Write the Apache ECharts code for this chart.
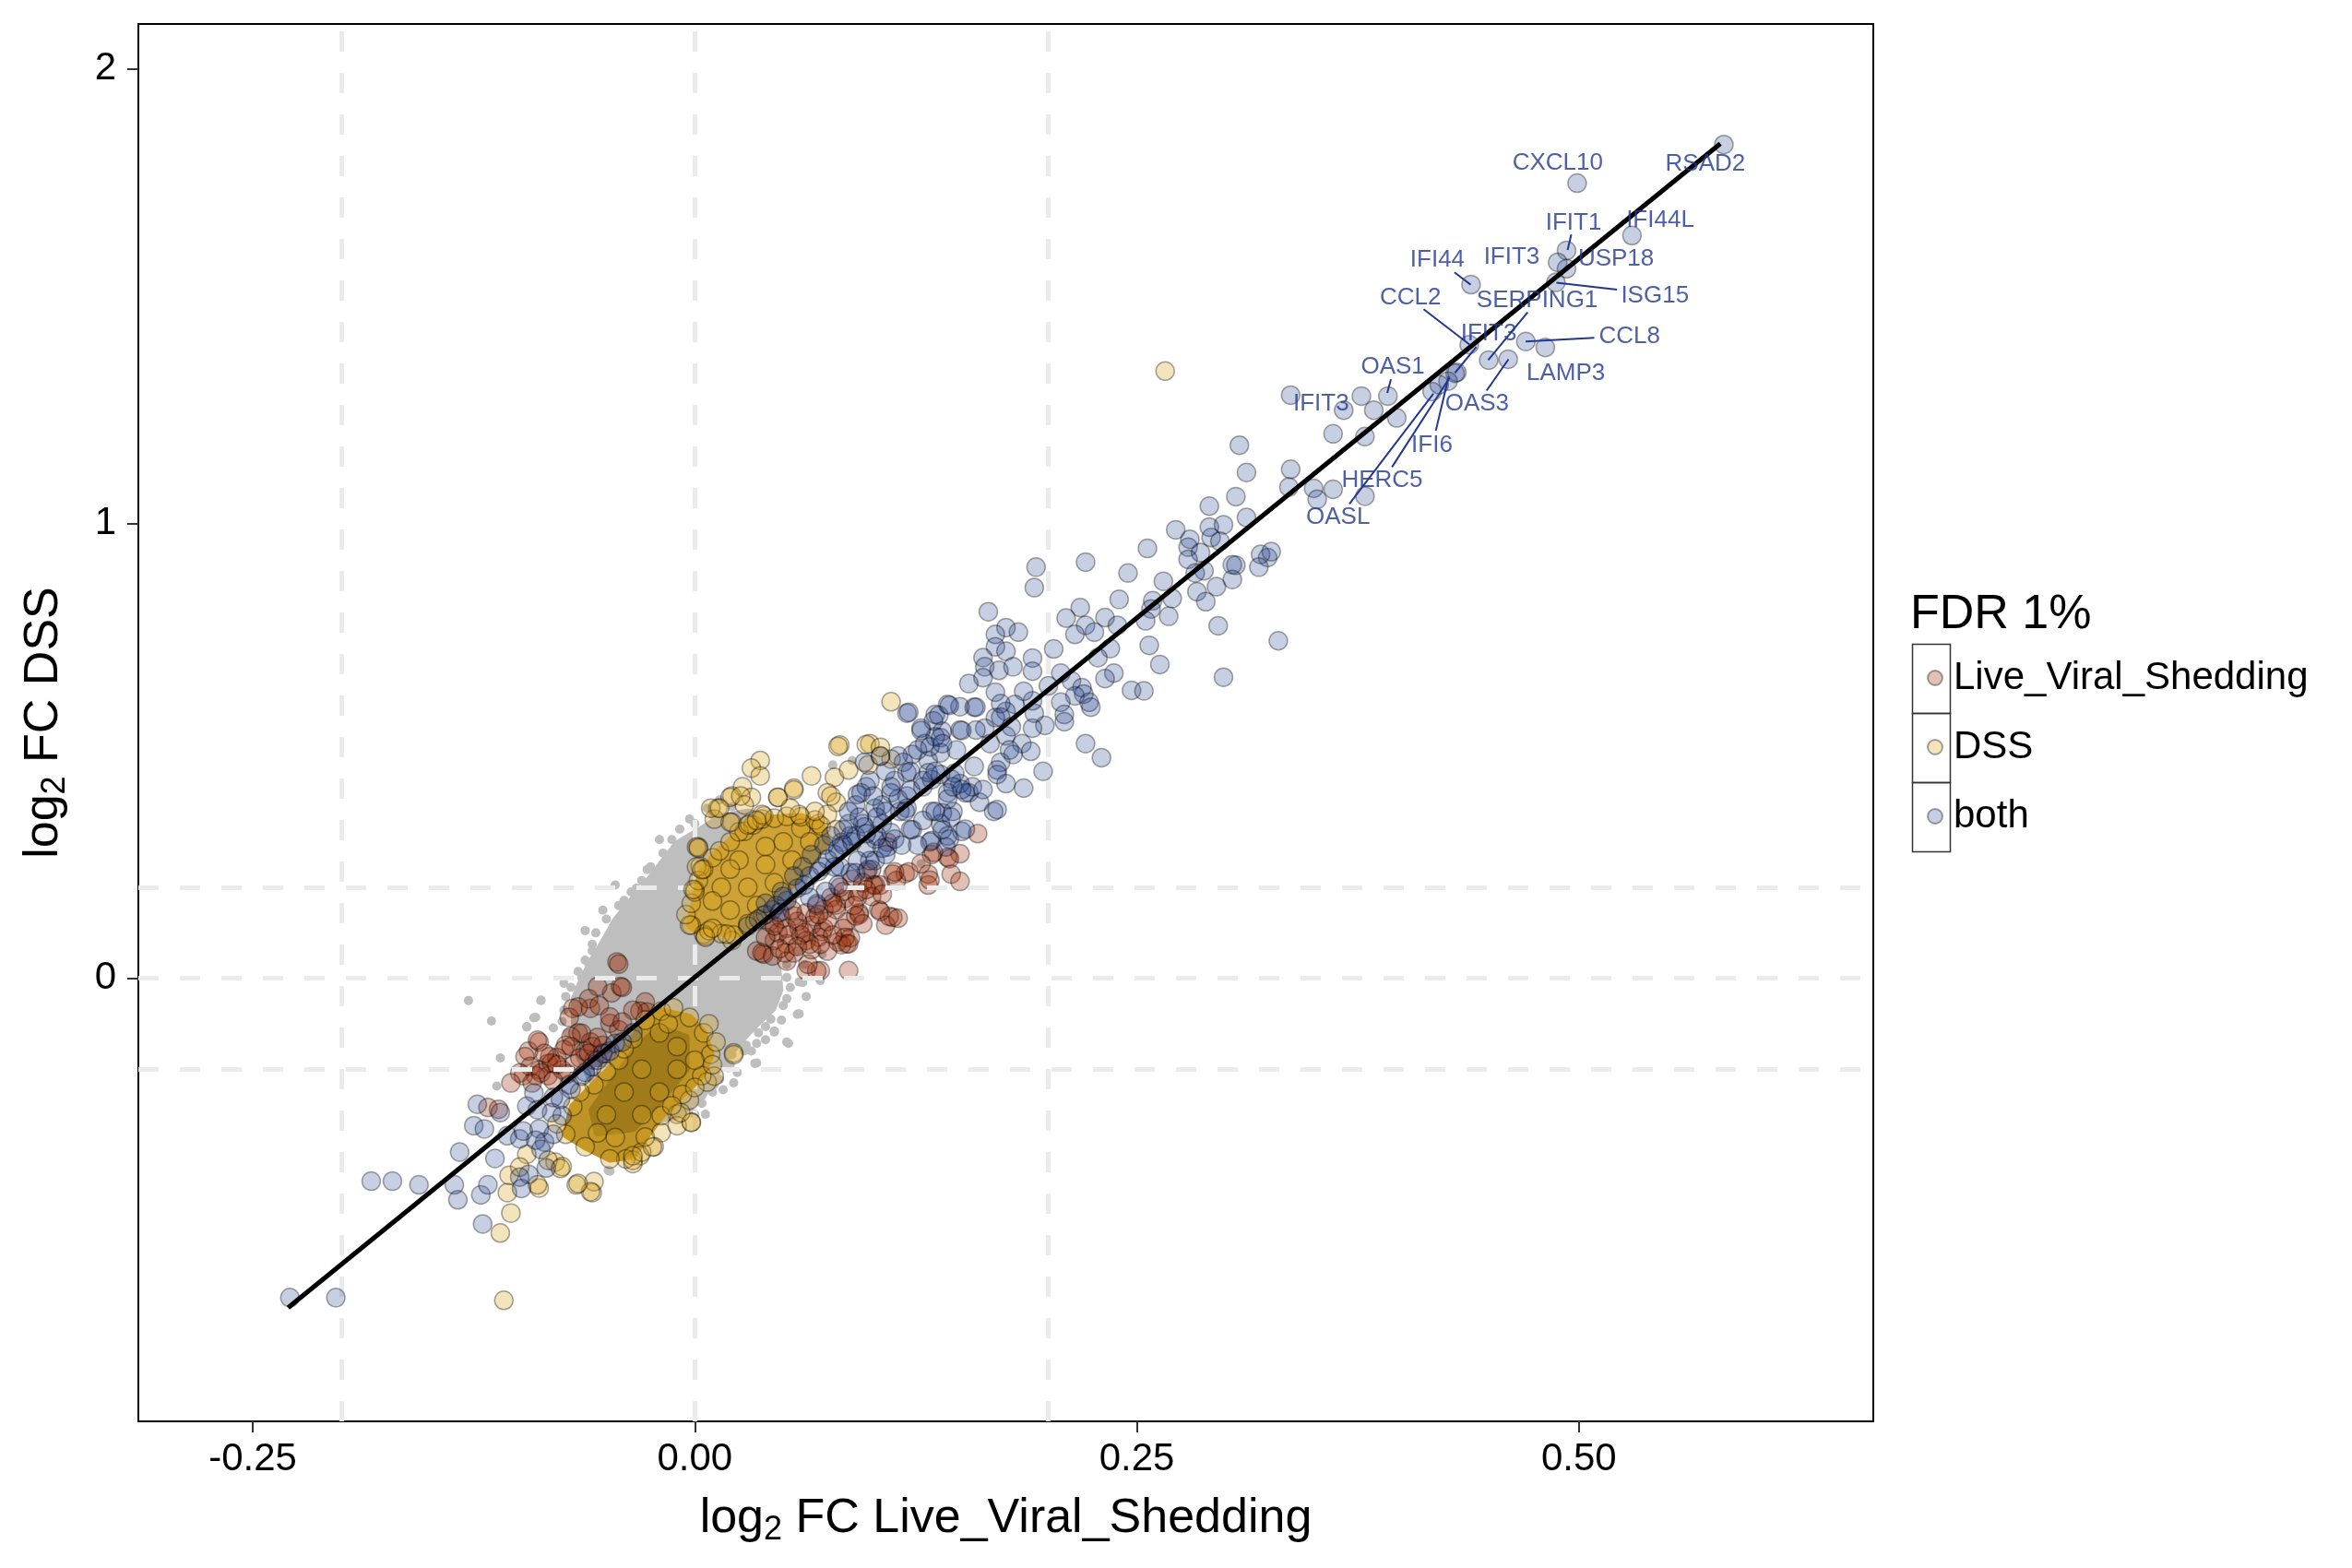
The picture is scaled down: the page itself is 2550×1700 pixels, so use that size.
<!DOCTYPE html>
<html>
<head>
<meta charset="utf-8">
<script src="https://cdn.jsdelivr.net/npm/echarts@6/dist/echarts.min.js"></script>
<style>html,body{margin:0;padding:0;background:#fff}#chart{width:2550px;height:1700px}</style>
</head>
<body>
<div id="chart"></div>
<script>
var FONT = 'Liberation Sans, Arial, sans-serif';

var xTicks = [-0.25, 0, 0.25, 0.5];
var yTicks = [0, 1, 2];
var refLinesX = [-0.2, 0, 0.2];
var refLinesY = [-0.2, 0, 0.2];
var fitLine = [[-0.23, -0.724], [0.58, 1.835]];

// dense grey core (not significant genes), read as an outline
var greyHull = [[-0.050,0.090],[-0.045,0.125],[-0.038,0.160],[-0.030,0.195],[-0.024,0.225],[-0.018,0.255],[-0.010,0.295],[0.005,0.330],[0.015,0.355],[0.030,0.365],[0.056,0.340],[0.066,0.259],[0.059,0.191],[0.049,0.137],[0.042,0.070],[0.047,0.016],[0.048,-0.025],[0.044,-0.066],[0.035,-0.099],[0.025,-0.140],[0.018,-0.174],[0.011,-0.214],[0.004,-0.261],[-0.010,-0.302],[-0.028,-0.316],[-0.043,-0.302],[-0.057,-0.234],[-0.066,-0.167],[-0.068,-0.099],[-0.068,-0.045],[-0.063,0.002],[-0.057,0.045]];

var greyPoints = [[-0.0085,0.328],[-0.010,0.269],[-0.014,0.252],[-0.027,0.239],[-0.026,0.208],[-0.033,0.198],[-0.029,0.181],[-0.040,0.171],[-0.040,0.154],[-0.048,0.087],[-0.058,0.060],[-0.060,0.033],[-0.064,0.002],[-0.074,-0.011],[-0.087,-0.048],[-0.090,-0.086],[-0.095,-0.106],[-0.080,-0.109],
[0.052,0.002],[0.059,-0.008],[0.071,-0.005],[0.052,-0.045],[0.058,-0.079],[0.045,-0.116],[0.052,-0.140],[0.035,-0.143],[0.032,-0.160],[0.034,-0.187],[0.019,-0.197],[0.024,-0.207],[0.004,-0.275],[0.006,-0.299],[0.000,-0.299],[-0.048,-0.424],[0.007,0.374],[0.021,0.377],[0.078,0.469],[0.089,0.479],[0.128,0.252],[0.072,0.053],
[0.042,0.022],[0.039,0.036],[0.045,-0.011],[0.049,-0.092],[0.040,-0.106],[0.028,-0.147],[0.012,-0.201],[0.011,-0.234],[-0.003,-0.282],[-0.014,-0.302],
[-0.128,-0.049],[-0.115,-0.094],[-0.087,-0.049],[-0.091,-0.087],[-0.095,-0.107],[-0.110,-0.175],[-0.112,-0.237],[-0.049,-0.422],[0.035,-0.186],[0.053,-0.143],[0.045,-0.118],[0.059,-0.078],[0.061,-0.009],[0.022,-0.230],[0.021,-0.168],[0.029,-0.147],
[-0.056,0.100],[-0.058,0.075],[-0.062,0.040],[-0.066,0.015],[-0.070,-0.020],[-0.073,-0.040],[-0.074,-0.070],[-0.075,-0.095],[-0.072,-0.120],[-0.050,0.130],[-0.043,0.160],[-0.036,0.190],[-0.030,0.215],[-0.025,0.245],[-0.018,0.275],[-0.013,0.305],[0.000,0.340],[0.010,0.360],[0.052,0.030],[0.054,-0.020],[0.050,-0.060],[0.043,-0.090],[0.036,-0.120],[0.028,-0.160],[0.020,-0.190],[0.014,-0.222],[0.010,-0.250],[0.058,0.060],[0.062,0.030],
[-0.045,0.205],[-0.052,0.150],[-0.062,0.105],[-0.020,0.305],[-0.003,0.350],[0.014,0.392],[0.063,-0.040],[0.040,-0.135],[0.016,-0.245]];

// dense DSS cores, read as outlines
var dssCoreUpper = [[-0.003,0.117],[0.000,0.170],[0.003,0.225],[0.010,0.265],[0.017,0.292],[0.031,0.340],[0.045,0.352],[0.060,0.355],[0.0715,0.340],[0.075,0.300],[0.065,0.250],[0.055,0.205],[0.045,0.170],[0.0386,0.138],[0.030,0.110],[0.0245,0.097],[0.010,0.100],[0.002,0.103]];
var dssCoreLower = [[-0.019,-0.072],[-0.003,-0.086],[0.005,-0.120],[0.009,-0.167],[0.004,-0.214],[-0.007,-0.255],[-0.019,-0.302],[-0.028,-0.349],[-0.035,-0.390],[-0.048,-0.397],[-0.062,-0.370],[-0.073,-0.343],[-0.069,-0.282],[-0.057,-0.234],[-0.043,-0.180],[-0.035,-0.133],[-0.028,-0.092]];
var dssCoreLowerInner = [[-0.020,-0.110],[-0.005,-0.130],[-0.005,-0.200],[-0.020,-0.270],[-0.035,-0.330],[-0.055,-0.340],[-0.058,-0.290],[-0.045,-0.220],[-0.032,-0.150]];

var shedPoints = [[0.160,0.318],[0.150,0.274],[0.143,0.266],[0.134,0.272],[0.132,0.229],[0.145,0.229],[0.150,0.213],[0.132,0.205],[0.119,0.230],[0.112,0.229],[0.105,0.205],[0.114,0.215],[0.104,0.151],[0.112,0.134],[0.108,0.117],[0.093,0.144],[0.086,0.124],[0.086,0.076],[0.081,0.080],[0.087,0.017],[0.071,0.017],[0.063,0.017],[0.100,0.239],[0.102,0.205],
[0.133,0.216],[0.144,0.263],[0.135,0.277],[0.128,0.252],[0.113,0.234],[0.121,0.234],[0.110,0.136],[0.115,0.132],[0.105,0.147],[0.093,0.140],[0.088,0.089],[0.083,0.074],[0.069,0.016],[0.064,0.031],[0.052,0.038],[0.039,0.053],[0.035,0.060],[0.072,0.103],[0.085,0.176],[0.080,0.161],[0.093,0.190],[0.101,0.205],[0.097,0.234],[0.109,0.299],
[0.042,0.124],[0.049,0.131],[0.056,0.137],[0.063,0.144],[0.052,0.110],[0.059,0.110],[0.066,0.117],[0.073,0.151],[0.077,0.178],[0.084,0.191],[0.089,0.218],[0.070,0.090],[0.063,0.083],[0.052,0.076],[0.045,0.083],[0.038,0.056],[0.044,0.049],[0.051,0.056],[0.056,0.056],[0.066,0.063],[0.073,0.110],[0.080,0.151],[0.092,0.178],[0.091,0.137],[0.084,0.110],[0.085,0.090],[0.087,0.076],
[0.058,0.125],[0.047,0.100],[0.060,0.095],[0.068,0.135],[0.075,0.125],[0.078,0.095],[0.069,0.160],[0.082,0.200],[0.095,0.210],[0.100,0.180],[0.040,0.090],[0.055,0.150],[0.065,0.075],[0.075,0.060],
[0.045,0.115],[0.053,0.095],[0.062,0.100],[0.070,0.140],[0.078,0.165],[0.058,0.070],[0.048,0.065],[0.071,0.075],[0.090,0.160],[0.097,0.195],[0.106,0.185],[0.095,0.120],
[-0.066,-0.120],[-0.059,-0.140],[-0.052,-0.147],[-0.062,-0.160],[-0.073,-0.147],[-0.078,-0.174],[-0.083,-0.187],[-0.088,-0.201],[-0.090,-0.214],[-0.097,-0.214],[-0.083,-0.214],[-0.075,-0.201],[-0.068,-0.187],[-0.057,-0.180],[-0.048,-0.099],[-0.043,-0.113],[-0.069,-0.066],[-0.059,-0.066],[-0.047,-0.032],[-0.042,-0.018],[-0.044,0.036],[-0.055,-0.018],[-0.028,-0.052],[-0.031,-0.072],[-0.071,-0.086],[-0.094,-0.160],[-0.088,-0.140],
[-0.043,0.031],[-0.041,-0.020],[-0.060,-0.045],[-0.054,-0.060],[-0.066,-0.063],[-0.027,-0.074],[-0.035,-0.070],[-0.048,-0.085],[-0.041,-0.096],[-0.089,-0.136],[-0.096,-0.172],[-0.093,-0.194],[-0.099,-0.208],[-0.104,-0.230],[-0.082,-0.172],[-0.070,-0.128],[-0.064,-0.121],[-0.058,-0.150],[-0.074,-0.157],[-0.087,-0.208],[-0.117,-0.284],[-0.111,-0.288],[-0.081,-0.186],
[-0.070,-0.150],[-0.065,-0.175],[-0.060,-0.165],[-0.078,-0.190],[-0.072,-0.210],[-0.085,-0.165],[-0.055,-0.130],[-0.050,-0.165],[-0.080,-0.225],[-0.092,-0.230]];

var dssPoints = [[0.082,0.513],[0.099,0.516],[0.111,0.482],[0.037,0.479],[0.032,0.462],[0.037,0.445],[0.027,0.421],[0.021,0.401],[0.032,0.398],[0.028,0.381],[0.013,0.374],[0.011,0.350],[0.021,0.343],[0.028,0.323],[0.033,0.337],[0.039,0.357],[0.047,0.398],[0.056,0.418],[0.066,0.445],[0.079,0.442],[0.087,0.458],[0.098,0.469],[0.075,0.408],[0.080,0.387],[0.002,0.289],[0.003,0.246],[0.000,0.195],[-0.002,0.117],[0.005,0.097],[0.021,0.083],[0.006,0.093],[0.105,0.488],
[0.111,0.608],[0.081,0.510],[0.097,0.514],[0.105,0.508],[0.009,0.374],[0.001,0.289],[0.001,0.245],
[0.266,1.335],[-0.106,-0.471],[-0.110,-0.560],[-0.108,-0.708],[-0.058,-0.471],[-0.079,-0.404],
[0.020,0.150],[0.030,0.200],[0.040,0.250],[0.050,0.300],[0.060,0.330],[0.025,0.260],[0.015,0.200],[0.035,0.160],[0.045,0.210],[0.055,0.260],[0.065,0.300],[0.070,0.340],[0.030,0.120],[0.010,0.170],[0.020,0.240],[0.040,0.290],
[-0.003,0.117],[-0.005,0.140],[-0.002,0.165],[0.000,0.190],[0.002,0.215],[0.005,0.240],[0.010,0.265],[0.014,0.280],[0.020,0.300],[0.025,0.322],[0.031,0.340],[0.038,0.350],[0.045,0.352],[0.052,0.356],[0.060,0.355],[0.068,0.348],[0.0715,0.335],[0.008,0.105],[0.015,0.098],[0.022,0.095],[0.0386,0.138],[0.034,0.125],[0.075,0.360],[0.080,0.327],
[0.020,0.398],[0.026,0.401],[0.047,0.398],[0.056,0.414],[0.077,0.401],[0.068,0.367],[0.059,0.360],[0.054,0.374],[0.038,0.360],[0.014,0.374],[0.020,0.343],[0.030,0.337],[0.035,0.347],[0.002,0.286],[0.004,0.239],[-0.001,0.195],[0.006,0.090],[0.018,0.097],[0.010,0.110],
[0.022,-0.164],[0.007,-0.228],[-0.003,-0.268],[-0.010,-0.299],[-0.002,-0.316],[-0.019,-0.339],[-0.023,-0.370],[-0.031,-0.390],[-0.035,-0.407],[-0.057,-0.447],[-0.067,-0.454],[-0.088,-0.461],[-0.075,-0.414],[-0.083,-0.400],[-0.095,-0.387],[-0.104,-0.516],[-0.059,-0.469],[-0.066,-0.451],[-0.089,-0.454],[-0.105,-0.433],[-0.099,-0.415],[-0.076,-0.418],[-0.039,-0.397],[-0.035,-0.400],[-0.030,-0.382],[-0.024,-0.371],[-0.010,-0.324],[-0.002,-0.317],[-0.008,-0.295],[0.011,-0.215],[0.022,-0.168],
[-0.019,-0.072],[-0.003,-0.086],[0.005,-0.120],[0.009,-0.167],[0.004,-0.214],[-0.007,-0.255],[-0.019,-0.302],[-0.028,-0.349],[-0.035,-0.390],[-0.048,-0.397],[-0.062,-0.370],[-0.073,-0.343],[-0.069,-0.282],[-0.057,-0.234],[-0.043,-0.180],[-0.035,-0.133],[-0.028,-0.092],[-0.020,-0.120],[-0.010,-0.150],[-0.030,-0.200],[-0.040,-0.250],[-0.050,-0.300],[-0.020,-0.250],[-0.010,-0.200],[-0.030,-0.300],[-0.055,-0.340],[-0.045,-0.350],[-0.015,-0.100],[0.000,-0.180],
[-0.012,-0.065],[0.008,-0.100],[0.012,-0.140],[0.010,-0.190],[0.000,-0.240],[-0.013,-0.280],[-0.078,-0.320],[-0.065,-0.250],[-0.050,-0.205],[-0.040,-0.155]];

var bothPoints = [[0.582,1.833],[0.499,1.748],[0.530,1.633],[0.493,1.600],[0.488,1.574],[0.493,1.560],[0.487,1.530],[0.439,1.525],[0.470,1.400],[0.481,1.387],[0.460,1.361],[0.449,1.359],[0.438,1.393],[0.431,1.332],[0.426,1.313],[0.417,1.290],[0.397,1.232],[0.392,1.280],[0.337,1.282],[0.367,1.249],[0.377,1.280],[0.384,1.249],[0.361,1.197],[0.379,1.191],[0.308,1.172],[0.312,1.112],[0.337,1.119],[0.336,1.080],[0.350,1.077],[0.352,1.053],[0.361,1.075],[0.379,1.060],[0.291,1.038],[0.306,1.059],[0.292,0.969],[0.324,0.925],[0.306,0.908],[0.430,1.330],[0.421,1.305],
[0.272,0.986],[0.280,0.965],[0.291,0.992],[0.299,0.997],[0.312,1.013],[0.279,0.948],[0.286,0.936],[0.297,0.961],[0.279,0.921],[0.288,0.896],[0.304,0.909],[0.320,0.932],[0.326,0.938],[0.319,0.904],[0.304,0.877],[0.295,0.861],[0.256,0.945],[0.221,0.915],[0.193,0.904],[0.192,0.859],[0.245,0.891],[0.265,0.873],[0.283,0.891],[0.284,0.850],[0.289,0.828],[0.270,0.835],[0.259,0.830],[0.258,0.812],[0.240,0.833],[0.255,0.786],[0.268,0.796],[0.296,0.775],[0.330,0.742],[0.218,0.815],[0.210,0.792],[0.221,0.776],[0.226,0.761],[0.215,0.756],[0.232,0.793],[0.239,0.776],[0.166,0.806],[0.176,0.771],[0.183,0.761],[0.170,0.756],
[0.170,0.729],[0.176,0.719],[0.163,0.705],[0.164,0.685],[0.172,0.677],[0.180,0.685],[0.191,0.704],[0.203,0.724],[0.191,0.675],[0.235,0.725],[0.228,0.705],[0.257,0.732],[0.263,0.690],[0.299,0.662],[0.237,0.671],[0.232,0.659],[0.247,0.633],[0.254,0.632],[0.207,0.671],[0.213,0.654],[0.200,0.643],[0.219,0.639],[0.220,0.625],[0.215,0.621],[0.207,0.607],[0.223,0.607],[0.224,0.596],[0.209,0.580],[0.209,0.564],[0.198,0.556],[0.191,0.550],[0.192,0.583],[0.191,0.610],[0.186,0.631],[0.181,0.602],[0.176,0.587],[0.170,0.573],[0.170,0.629],[0.163,0.661],[0.155,0.648],[0.173,0.604],[0.164,0.550],[0.120,0.583],[0.136,0.580],[0.143,0.602],[0.150,0.597],[0.158,0.596],[0.159,0.546],[0.150,0.546],[0.140,0.543],[0.128,0.550],[0.135,0.566],
[0.176,0.533],[0.185,0.516],[0.190,0.499],[0.180,0.492],[0.173,0.475],[0.171,0.458],[0.176,0.428],[0.186,0.418],[0.197,0.455],[0.221,0.516],[0.230,0.485],[0.169,0.367],[0.161,0.387],[0.155,0.408],[0.157,0.421],[0.150,0.428],[0.145,0.438],[0.146,0.367],[0.134,0.367],[0.139,0.340],[0.151,0.323],[0.143,0.313],[0.134,0.303],[0.142,0.289],[0.130,0.516],[0.139,0.529],[0.123,0.492],[0.118,0.475],[0.132,0.479],[0.139,0.496],[0.148,0.502],[0.120,0.452],[0.113,0.435],[0.111,0.408],[0.120,0.401],[0.129,0.421],[0.132,0.452],[0.139,0.448],[0.143,0.408],[0.153,0.408],[0.120,0.374],[0.116,0.367],[0.106,0.381],[0.102,0.374],[0.097,0.421],[0.092,0.404],[0.106,0.340],[0.111,0.320],[0.123,0.327],[0.102,0.306],[0.097,0.286],[0.109,0.289],[0.095,0.340],[0.088,0.313],[0.083,0.299],[0.092,0.259],[0.102,0.259],[0.098,0.239],[0.088,0.232],[0.079,0.245],[0.081,0.205],[0.074,0.191],[0.069,0.164],[0.065,0.178],
[0.121,0.585],[0.138,0.578],[0.144,0.600],[0.159,0.596],[0.173,0.574],[0.179,0.553],[0.151,0.545],[0.136,0.531],[0.128,0.545],[0.167,0.516],[0.178,0.502],[0.171,0.448],[0.163,0.415],[0.171,0.371],[0.153,0.328],[0.144,0.306],[0.140,0.364],[0.158,0.466],[0.147,0.451],[0.134,0.437],[0.122,0.455],[0.151,0.415],
[0.052,0.171],[0.058,0.198],[0.065,0.225],[0.072,0.245],[0.079,0.272],[0.084,0.293],[0.091,0.313],[0.096,0.333],[0.103,0.354],[0.108,0.367],[0.115,0.394],[0.122,0.414],[0.129,0.435],[0.136,0.455],[0.091,0.381],[0.094,0.408],[0.099,0.435],[0.108,0.455],[0.115,0.489],[0.126,0.502],[0.133,0.509],[0.140,0.516],[0.103,0.313],[0.106,0.286],[0.113,0.306],[0.122,0.327],[0.129,0.347],[0.136,0.367],[0.143,0.394],[0.146,0.421],[0.145,0.354],[0.140,0.327],[0.133,0.300],[0.126,0.293],[0.087,0.340],[0.077,0.313],[0.066,0.272],[0.082,0.245],[0.091,0.232],[0.099,0.259],[0.108,0.272],[0.117,0.293],[0.087,0.367],[0.093,0.354],[0.084,0.327],[0.073,0.293],[0.061,0.245],[0.056,0.225],[0.049,0.191],[0.044,0.151],[0.096,0.475],[0.105,0.489],[0.101,0.401],[0.111,0.421],[0.119,0.367],
[0.030,0.115],[0.036,0.130],[0.040,0.140],[0.046,0.160],[0.050,0.180],[0.040,0.165],[0.048,0.145],[0.075,0.262],[0.070,0.235],[0.062,0.205],[0.081,0.285],[0.089,0.300],[0.097,0.318],
[-0.123,-0.277],[-0.133,-0.382],[-0.136,-0.454],[-0.121,-0.476],[-0.125,-0.324],[-0.119,-0.331],[-0.113,-0.396],[-0.110,-0.295],[-0.106,-0.346],[-0.099,-0.353],[-0.098,-0.462],[-0.117,-0.454],[-0.095,-0.281],[-0.091,-0.252],[-0.088,-0.331],[-0.085,-0.360],[-0.081,-0.295],[-0.076,-0.266],[-0.070,-0.244],[-0.064,-0.215],[-0.058,-0.194],[-0.052,-0.165],[-0.045,-0.143],
[-0.097,-0.336],[-0.090,-0.356],[-0.087,-0.376],[-0.080,-0.343],[-0.075,-0.302],[-0.094,-0.431],[-0.099,-0.437],[-0.084,-0.417],[-0.062,-0.207],[-0.055,-0.180],[-0.048,-0.160],[-0.041,-0.140],[-0.035,-0.120],[-0.071,-0.234],[-0.080,-0.262],[-0.089,-0.289],
[-0.183,-0.446],[-0.171,-0.446],[-0.156,-0.454],[-0.134,-0.487],[-0.120,-0.540],[-0.229,-0.702],[-0.203,-0.702]];

// gene name, label x, label y
var geneLabels = [['RSAD2',0.5715,1.791],['CXCL10',0.488,1.793],['IFI44L',0.546,1.667],['IFIT1',0.497,1.661],['USP18',0.521,1.581],['IFIT3',0.462,1.586],['IFI44',0.420,1.579],['ISG15',0.543,1.501],['SERPING1',0.4764,1.491],['CCL2',0.4047,1.497],['IFIT3',0.449,1.418],['CCL8',0.5286,1.410],['LAMP3',0.4926,1.330],['OAS3',0.4424,1.262],['OAS1',0.3948,1.344],['IFIT3',0.3542,1.263],['IFI6',0.4169,1.172],['HERC5',0.3887,1.094],['OASL',0.3638,1.013]];
// repel segments: from label edge to point
var geneSegments = [[0.4957,1.635,0.4936,1.601],[0.4296,1.552,0.4388,1.525],[0.5216,1.514,0.4873,1.529],[0.471,1.464,0.4487,1.359],[0.4122,1.471,0.4383,1.393],[0.442,1.388,0.4299,1.331],[0.5087,1.408,0.4699,1.400],[0.4478,1.292,0.4602,1.361],[0.3937,1.317,0.3916,1.287],[0.4191,1.204,0.4264,1.324],[0.3943,1.124,0.4268,1.320],[0.3702,1.043,0.4177,1.285]];

var seriesNames = ['Live_Viral_Shedding', 'DSS', 'both'];

function hullSeries(points, fill, z) {
  return {
    type: 'custom', coordinateSystem: 'cartesian2d', silent: true, z: z,
    data: [points[0]],
    renderItem: function (params, api) {
      return {
        type: 'polygon',
        shape: { points: points.map(function (p) { return api.coord(p); }) },
        style: { fill: fill, stroke: fill, lineWidth: 8, lineJoin: 'round' }
      };
    }
  };
}

var circleBorder = 'rgba(0,0,0,0.35)';
var labelBlue = '#22388E';

var chart = echarts.init(document.getElementById('chart'));
chart.setOption({
  animation: false,
  backgroundColor: '#fff',
  textStyle: { fontFamily: FONT },
  title: {
    text: 'FDR 1%', left: 2071, top: 641, padding: 0,
    textStyle: { fontSize: 52, fontWeight: 'normal', color: '#000', fontFamily: FONT }
  },
  legend: {
    orient: 'vertical', left: 2084, top: 709,
    itemWidth: 16, itemHeight: 16, itemGap: 33, icon: 'circle',
    data: seriesNames,
    formatter: function (n) { return '{t|' + n + '}'; },
    textStyle: {
      fontSize: 42, color: '#000', fontFamily: FONT,
      rich: { t: { fontSize: 42, lineHeight: 50, padding: [0, 0, 0, 7], color: '#000', fontFamily: FONT } }
    }
  },
  graphic: [
    { type: 'rect', left: 2071, top: 696, shape: { width: 41, height: 75 }, style: { fill: 'none', stroke: '#333', lineWidth: 1.5 } },
    { type: 'rect', left: 2071, top: 771, shape: { width: 41, height: 75 }, style: { fill: 'none', stroke: '#333', lineWidth: 1.5 } },
    { type: 'rect', left: 2071, top: 846, shape: { width: 41, height: 75 }, style: { fill: 'none', stroke: '#333', lineWidth: 1.5 } }
  ],
  grid: {
    left: 150, right: 519, top: 26, bottom: 159,
    show: true, borderColor: '#000', borderWidth: 2, outerBoundsMode: 'none'
  },
  xAxis: {
    type: 'value', min: -0.3147, max: 0.6665,
    axisLine: { show: false, onZero: false },
    axisTick: { show: true, length: 12, customValues: xTicks, lineStyle: { color: '#333', width: 2 } },
    axisLabel: { customValues: xTicks, formatter: function (v) { return v.toFixed(2); }, fontSize: 42, color: '#000', margin: 20, fontFamily: FONT },
    splitLine: { show: false },
    name: '{a|log}{b|2}{a| FC Live_Viral_Shedding}', nameLocation: 'middle', nameGap: 74,
    nameTextStyle: {
      fontSize: 52, color: '#000', fontFamily: FONT,
      rich: {
        a: { fontSize: 52, lineHeight: 64, color: '#000', fontFamily: FONT },
        b: { fontSize: 36, lineHeight: 64, padding: [24, 0, 0, 0], color: '#000', fontFamily: FONT }
      }
    }
  },
  yAxis: {
    type: 'value', min: -0.974, max: 2.098,
    axisLine: { show: false, onZero: false },
    axisTick: { show: true, length: 12, customValues: yTicks, lineStyle: { color: '#333', width: 2 } },
    axisLabel: { customValues: yTicks, formatter: function (v) { return String(v); }, fontSize: 42, color: '#000', margin: 24, fontFamily: FONT },
    splitLine: { show: false },
    name: '{a|log}{b|2}{a| FC DSS}', nameLocation: 'middle', nameGap: 70,
    nameTextStyle: {
      fontSize: 52, color: '#000', fontFamily: FONT,
      rich: {
        a: { fontSize: 52, lineHeight: 64, color: '#000', fontFamily: FONT },
        b: { fontSize: 36, lineHeight: 64, padding: [24, 0, 0, 0], color: '#000', fontFamily: FONT }
      }
    }
  },
  series: [
    {
      type: 'line', data: [], z: 1, silent: true,
      markLine: {
        silent: true, symbol: ['none', 'none'], label: { show: false },
        lineStyle: { type: [22, 23], color: '#EBEBEB', width: 5 },
        data: refLinesX.map(function (v) { return { xAxis: v }; }).concat(refLinesY.map(function (v) { return { yAxis: v }; }))
      }
    },
    hullSeries(greyHull, '#BEBEBE', 2),
    {
      type: 'scatter', name: 'ns', data: greyPoints, z: 3, silent: true,
      symbolSize: 10, itemStyle: { color: '#BEBEBE', opacity: 1 }
    },
    {
      type: 'scatter', name: seriesNames[0], data: shedPoints, z: 4, silent: true,
      symbolSize: 20,
      itemStyle: { color: 'rgba(160,45,10,0.3)', borderColor: circleBorder, borderWidth: 1.5, opacity: 1 }
    },
    hullSeries(dssCoreUpper, '#CDA236', 5),
    hullSeries(dssCoreLower, '#BE9428', 5),
    hullSeries(dssCoreLowerInner, '#A07B1A', 5),
    {
      type: 'scatter', name: seriesNames[1], data: dssPoints, z: 6, silent: true,
      symbolSize: 20,
      itemStyle: { color: 'rgba(218,165,32,0.3)', borderColor: circleBorder, borderWidth: 1.5, opacity: 1 }
    },
    {
      type: 'scatter', name: seriesNames[2], data: bothPoints, z: 7, silent: true,
      symbolSize: 20,
      itemStyle: { color: 'rgba(31,63,143,0.25)', borderColor: circleBorder, borderWidth: 1.5, opacity: 1 }
    },
    {
      type: 'line', data: fitLine, z: 8, silent: true, symbol: 'none',
      lineStyle: { color: '#000', width: 5 }
    },
    {
      type: 'lines', coordinateSystem: 'cartesian2d', z: 9, silent: true,
      data: geneSegments.map(function (s) { return { coords: [[s[0], s[1]], [s[2], s[3]]] }; }),
      lineStyle: { color: labelBlue, width: 2, opacity: 1 }
    },
    {
      type: 'scatter', z: 10, silent: true, symbolSize: 0,
      data: geneLabels.map(function (g) { return { name: g[0], value: [g[1], g[2]] }; }),
      label: { show: true, position: 'inside', formatter: '{b}', color: labelBlue, fontSize: 26, fontFamily: FONT }
    }
  ]
});
</script>
</body>
</html>
